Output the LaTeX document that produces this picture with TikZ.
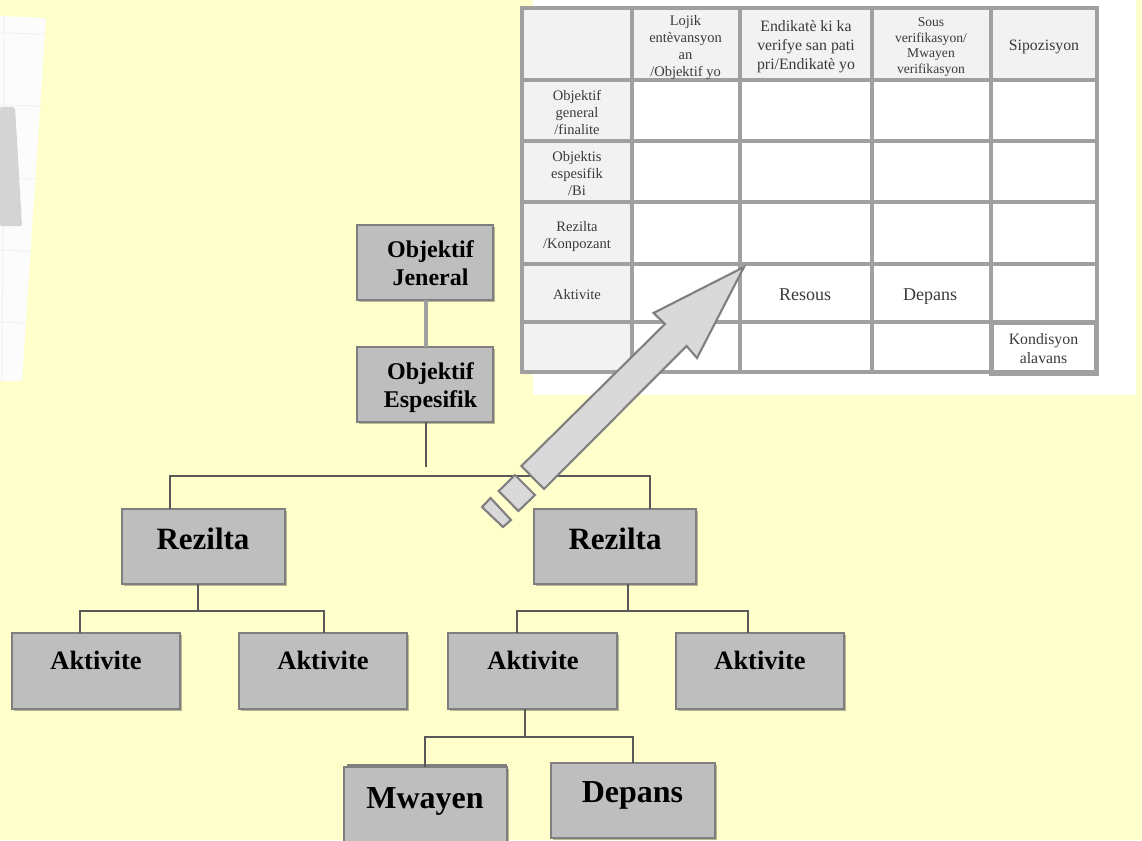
\documentclass[tikz,border=0pt]{standalone}
\usepackage{fontspec}
\setmainfont{Liberation Serif}
\usetikzlibrary{shadows}
\definecolor{paper}{HTML}{FFFFCC}
\definecolor{boxfill}{HTML}{BEBEBE}
\definecolor{boxline}{HTML}{7F7F7F}
\definecolor{grid}{HTML}{A0A0A0}
\definecolor{headfill}{HTML}{F2F2F2}
\definecolor{celltext}{HTML}{3A3A3A}
\definecolor{connector}{HTML}{595959}
\tikzset{
  greybox/.style={draw=boxline,fill=boxfill,line width=1.8pt,inner sep=0pt,outer sep=0pt,
    drop shadow={shadow xshift=1.5pt,shadow yshift=-2pt,fill=black,opacity=.28}},
  boxtext/.style={font=\bfseries\fontsize{#1}{29}\selectfont,inner sep=0pt,anchor=base,align=center,text=black},
  conn/.style={draw=connector,line width=2.9pt,line join=miter},
  thickconn/.style={draw=grid,line width=4.5pt},
  gridline/.style={draw=grid,line width=3.4pt},
  celltxt/.style={font=\fontsize{14.5}{17}\selectfont,inner sep=0pt,align=center,text=celltext},
  celltxtb/.style={font=\fontsize{15.8}{19}\selectfont,inner sep=0pt,align=center,text=celltext},
  celltxtc/.style={font=\fontsize{13.6}{15.5}\selectfont,inner sep=0pt,align=center,text=celltext},
  celltxtd/.style={font=\fontsize{18}{21}\selectfont,inner sep=0pt,anchor=base,text=celltext},
  bigarrow/.style={draw=boxline,fill=black!15,line width=2.1pt,line join=miter},
}
\newcommand{\gbox}[5]{\node[greybox,minimum width={(#4-#2)*1pt},minimum height={(#5-#3)*1pt}] (#1) at ({(#2+#4)/2},{(#3+#5)/2}) {};}
\begin{document}
\begin{tikzpicture}[x=1pt,y=-1pt]
\useasboundingbox (0,0) rectangle (1142,840);
\clip (0,0) rectangle (1142,840);
\fill[paper] (0,0) rectangle (1142,840);

% faded slide at the left edge
\fill[black!1] (0,16) -- (46,18) -- (22,381) -- (0,381) -- cycle;
\foreach \yy/\xx in {33/45,105/41,178/36,250/31,322/26}
  \draw[black!5,line width=1pt] (0,\yy) -- (\xx,\yy+1);
\draw[black!5,line width=1pt] (4,16) -- (2,381);
\fill[black!17,rounded corners=2pt] (0,107) -- (15,107) -- (22,226) -- (0,226) -- cycle;

% white panel and table
\fill[white] (533,0) -- (1136,0) -- (1136,395) -- (533,395) -- cycle;
\fill[white] (522,6) rectangle (533,374);
\fill[headfill] (522,8) rectangle (1097,80);
\fill[headfill] (522,8) rectangle (632,372);
\foreach \cx in {522,632,740,872,991,1097}
  \draw[gridline] (\cx,8) -- (\cx,372);
\foreach \cy in {8,80,141,202,264,322,372}
  \draw[gridline] (520.3,\cy) -- (1098.7,\cy);
\draw[draw=grid,line width=5pt] (991.5,322.5) rectangle (1096.5,373.5);

\node[celltxt] (h1) at (685.5,47.5) {Lojik\\entèvansyon\\an\\/Objektif yo};
\node[celltxtb] (h2) at (806,47) {Endikatè ki ka\\verifye san pati\\pri/Endikatè yo};
\node[celltxtc] (h3) at (931,47) {Sous\\verifikasyon/\\Mwayen\\verifikasyon};
\node[celltxtb] (h4) at (1044,46.5) {Sipozisyon};
\node[celltxt] (r1) at (577,112) {Objektif\\general\\/finalite};
\node[celltxt] (r2) at (577,174) {Objektis\\espesifik\\/Bi};
\node[celltxt] (r3) at (577,237) {Rezilta\\/Konpozant};
\node[celltxt] (r4) at (577,295) {Aktivite};
\node[celltxtd] (c1) at (805,300) {Resous};
\node[celltxtd] (c2) at (930,300) {Depans};
\node[celltxtb] (c3) at (1043.5,349) {Kondisyon\\alavans};

% boxes
\gbox{ge}{357}{225}{493}{300}
\gbox{ee}{357}{347}{493}{422}
\gbox{rl}{122}{509}{285}{584}
\gbox{rr}{534}{509}{696}{584}
\gbox{a1}{12}{633}{180}{709}
\gbox{a2}{239}{633}{407}{709}
\gbox{a3}{448}{633}{617}{709}
\gbox{a4}{676}{633}{844}{709}
\draw[boxline,line width=1.5pt] (347,765) -- (507,765);
\gbox{mw}{344}{767}{507}{870}
\gbox{de}{551}{763}{715}{838}

% connectors
\coordinate (stem) at (426,467);
\coordinate (topl) at (170,476);
\coordinate (topr) at (650,476);
\coordinate (lefl) at (80,611);
\coordinate (lefr) at (324,611);
\coordinate (lefm) at (198,611);
\coordinate (rigl) at (517,611);
\coordinate (rigr) at (748,611);
\coordinate (rigm) at (628,611);
\coordinate (lowl) at (425,737);
\coordinate (lowr) at (633,737);
\coordinate (lowm) at (525,737);
\draw[thickconn] (ge.south -| stem) -- (ee.north -| stem);
\draw[conn] (ee.south -| stem) -- (stem);
\draw[conn] (topl |- rl.north) -- (topl) -- (topr) -- (topr |- rr.north);
\draw[conn] (lefm |- rl.south) -- (lefm);
\draw[conn] (lefl |- a1.north) -- (lefl) -- (lefr) -- (lefr |- a2.north);
\draw[conn] (rigm |- rr.south) -- (rigm);
\draw[conn] (rigl |- a3.north) -- (rigl) -- (rigr) -- (rigr |- a4.north);
\draw[conn] (lowm |- a3.south) -- (lowm);
\draw[conn] (lowl |- mw.north) -- (lowl) -- (lowr) -- (lowr |- de.north);

% box texts
\node[boxtext=24] (get) at (430.5,257) {Objektif};
\node[boxtext=24] (get2) at (430.5,285) {Jeneral};
\node[boxtext=24] (eet) at (430.5,379) {Objektif};
\node[boxtext=24] (eet2) at (430.5,407) {Espesifik};
\node[boxtext=31] (rlt) at (203,549) {Rezilta};
\node[boxtext=31] (rrt) at (615,549) {Rezilta};
\node[boxtext=26.5] (a1t) at (96,669) {Aktivite};
\node[boxtext=26.5] (a2t) at (323,669) {Aktivite};
\node[boxtext=26.5] (a3t) at (533,669) {Aktivite};
\node[boxtext=26.5] (a4t) at (760,669) {Aktivite};
\node[boxtext=32] (mwt) at (425,808) {Mwayen};
\node[boxtext=32] (det) at (632.5,802) {Depans};

% striped block arrow
\draw[bigarrow] (744,267) -- (697,358) -- (686.5,346) -- (544,489) -- (521.4,466) -- (665,324) -- (653.5,313) -- cycle;
\draw[bigarrow] (515,475) -- (535,495) -- (518.4,511) -- (498.7,491) -- cycle;
\draw[bigarrow] (490.6,498) -- (511,520) -- (503,527) -- (482,507) -- cycle;
\end{tikzpicture}
\end{document}
